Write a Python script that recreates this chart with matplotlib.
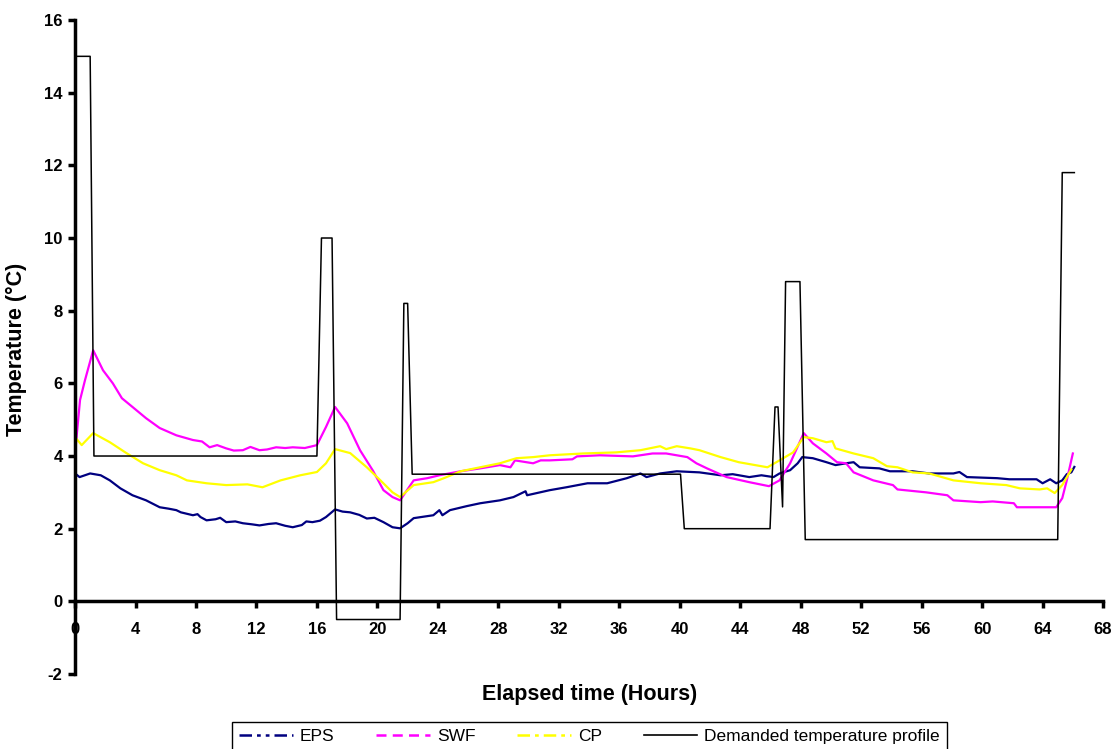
import matplotlib
matplotlib.use('Agg')
import matplotlib.pyplot as plt
from matplotlib.lines import Line2D

plt.rcParams['font.family'] = ['Liberation Sans', 'DejaVu Sans']
plt.rcParams['axes.unicode_minus'] = False

# demanded temperature profile (hours, degC)
dem_x = [0, 1.0, 1.25, 16.0, 16.3, 17.0, 17.3, 21.5, 21.75, 22.0,
         22.3, 40.05, 40.3, 45.97, 46.3, 46.5, 46.8, 47.0, 47.95, 48.3,
         65.0, 65.3, 66.1]
dem_y = [15, 15, 4, 4, 10, 10, -0.5, -0.5, 8.2, 8.2,
         3.5, 3.5, 2.0, 2.0, 5.35, 5.35, 2.6, 8.8, 8.8, 1.7,
         1.7, 11.8, 11.8]

eps_x = [0, 0.3, 1.0, 1.7, 2.3, 3.0, 3.8, 4.7, 5.6, 6.2,
         6.7, 7.0, 7.3, 7.8, 8.1, 8.3, 8.7, 9.3, 9.6, 10.0,
         10.6, 11.1, 11.7, 12.2, 12.8, 13.3, 13.9, 14.4, 15.0, 15.3,
         15.7, 16.2, 16.6, 17.2, 17.7, 18.2, 18.8, 19.3, 19.8, 20.4,
         21.0, 21.5, 22.0, 22.4, 23.7, 24.1, 24.3, 24.8, 25.9, 26.8,
         28.1, 29.0, 29.8, 29.9, 31.4, 32.5, 33.9, 35.2, 36.5, 37.4,
         37.8, 38.7, 39.8, 41.3, 42.7, 43.5, 44.6, 45.4, 46.2, 46.6,
         47.3, 47.8, 48.1, 48.8, 49.7, 50.3, 51.0, 51.5, 51.9, 53.2,
         53.9, 55.4, 56.5, 58.1, 58.5, 59.0, 61.0, 61.8, 63.6, 64.0,
         64.5, 64.9, 65.3, 65.6, 65.9, 66.1]
eps_y = [3.52, 3.42, 3.52, 3.47, 3.33, 3.11, 2.92, 2.78, 2.59, 2.55,
         2.51, 2.45, 2.42, 2.37, 2.40, 2.32, 2.23, 2.26, 2.30, 2.18,
         2.20, 2.15, 2.12, 2.09, 2.13, 2.15, 2.08, 2.04, 2.10, 2.20,
         2.18, 2.22, 2.32, 2.53, 2.47, 2.45, 2.38, 2.28, 2.30, 2.18,
         2.04, 2.01, 2.15, 2.29, 2.37, 2.51, 2.37, 2.51, 2.62, 2.70,
         2.78, 2.87, 3.03, 2.92, 3.06, 3.14, 3.25, 3.25, 3.39, 3.52,
         3.42, 3.52, 3.58, 3.55, 3.47, 3.50, 3.42, 3.47, 3.42, 3.52,
         3.61, 3.80, 3.97, 3.94, 3.83, 3.75, 3.80, 3.83, 3.69, 3.66,
         3.58, 3.58, 3.52, 3.52, 3.56, 3.42, 3.39, 3.36, 3.36, 3.25,
         3.36, 3.25, 3.33, 3.50, 3.55, 3.70]

swf_x = [0, 0.33, 0.66, 1.2, 1.85, 2.5, 3.1, 3.8, 4.7, 5.6,
         6.7, 7.8, 8.4, 8.9, 9.4, 10.0, 10.5, 11.1, 11.6, 12.2,
         12.7, 13.3, 13.9, 14.4, 15.2, 16.0, 16.6, 17.2, 18.0, 18.85,
         19.7, 20.4, 21.0, 21.5, 22.4, 23.3, 24.1, 25.5, 26.8, 28.1,
         28.8, 29.1, 30.3, 30.8, 31.4, 32.9, 33.2, 34.7, 36.9, 38.2,
         39.1, 40.5, 41.1, 41.8, 43.1, 44.6, 45.9, 46.6, 47.3, 48.2,
         48.8, 49.7, 50.4, 51.0, 51.5, 52.8, 54.1, 54.4, 56.3, 57.7,
         58.1, 59.9, 60.7, 62.1, 62.3, 64.9, 65.3, 65.6, 66.0]
swf_y = [4.08, 5.54, 6.09, 6.91, 6.36, 6.00, 5.59, 5.35, 5.04, 4.77,
         4.57, 4.44, 4.40, 4.24, 4.30, 4.21, 4.15, 4.16, 4.25, 4.16,
         4.18, 4.24, 4.22, 4.24, 4.22, 4.30, 4.80, 5.35, 4.90, 4.16,
         3.60, 3.06, 2.87, 2.78, 3.33, 3.39, 3.47, 3.58, 3.66, 3.75,
         3.69, 3.88, 3.80, 3.88, 3.88, 3.91, 3.99, 4.02, 3.99, 4.07,
         4.07, 3.97, 3.80, 3.66, 3.42, 3.28, 3.17, 3.33, 3.80, 4.63,
         4.35, 4.07, 3.83, 3.80, 3.55, 3.33, 3.20, 3.08, 3.00, 2.92,
         2.78, 2.73, 2.75, 2.70, 2.59, 2.59, 2.84, 3.33, 4.07]

cp_x = [0, 0.44, 1.2, 2.3, 3.4, 4.5, 5.6, 6.7, 7.4, 8.7,
        10.0, 11.4, 12.4, 13.6, 14.9, 16.0, 16.6, 17.2, 18.2, 19.3,
        20.2, 21.0, 21.5, 22.4, 23.7, 24.4, 25.5, 26.8, 28.1, 29.2,
        30.3, 31.4, 33.6, 35.8, 37.4, 38.7, 39.1, 39.8, 40.7, 41.3,
        42.7, 43.9, 45.8, 46.6, 47.5, 48.2, 48.8, 49.7, 50.1, 50.3,
        51.5, 52.8, 53.7, 54.4, 55.4, 56.5, 58.1, 59.9, 61.6, 62.5,
        63.8, 64.3, 64.8, 65.3, 65.9]
cp_y = [4.52, 4.30, 4.63, 4.38, 4.08, 3.80, 3.61, 3.47, 3.33, 3.25,
        3.20, 3.22, 3.14, 3.33, 3.47, 3.56, 3.80, 4.19, 4.08, 3.69,
        3.33, 3.00, 2.87, 3.20, 3.28, 3.39, 3.58, 3.69, 3.80, 3.94,
        3.97, 4.02, 4.07, 4.10, 4.16, 4.27, 4.19, 4.27, 4.21, 4.16,
        3.97, 3.83, 3.69, 3.88, 4.10, 4.52, 4.49, 4.38, 4.41, 4.21,
        4.07, 3.94, 3.72, 3.69, 3.55, 3.52, 3.33, 3.25, 3.20, 3.11,
        3.08, 3.11, 2.98, 3.20, 3.63]

fig = plt.figure(figsize=(11.15, 7.49), dpi=100)
ax = fig.add_axes([0.0673, 0.1001, 0.922, 0.8732])

ax.plot(eps_x, eps_y, color='#000080', lw=1.6)
ax.plot(swf_x, swf_y, color='#FF00FF', lw=1.6)
ax.plot(cp_x, cp_y, color='#FFFF00', lw=1.6)
ax.plot(dem_x, dem_y, color='black', lw=1.1)

ax.set_xlim(0, 68)
ax.set_ylim(-2, 16)
ax.set_xticks(range(0, 69, 4))
ax.set_yticks(range(-2, 17, 2))

ax.spines['top'].set_visible(False)
ax.spines['right'].set_visible(False)
ax.spines['bottom'].set_position(('data', 0))
ax.spines['bottom'].set_linewidth(2.5)
ax.spines['left'].set_linewidth(2.5)
ax.tick_params(direction='out', length=5, width=2.5, labelsize=12)
ax.tick_params(axis='x', pad=10)
ax.tick_params(axis='y', pad=4)
for lab in ax.get_xticklabels() + ax.get_yticklabels():
    lab.set_fontweight('bold')

ax.set_xlabel('Elapsed time (Hours)', fontsize=15.5, fontweight='bold')
ax.xaxis.set_label_coords(0.501, -0.016)
ax.set_ylabel('Temperature (°C)', fontsize=15.5, fontweight='bold')
ax.yaxis.set_label_coords(-0.047, 0.496)

handles = [
    Line2D([], [], color='#000080', lw=1.8, dashes=(5, 2, 1.5, 2, 1.5, 2)),
    Line2D([], [], color='#FF00FF', lw=1.8, dashes=(4, 2.5)),
    Line2D([], [], color='#FFFF00', lw=1.8, dashes=(5, 2, 1.5, 2)),
    Line2D([], [], color='black', lw=1.2),
]
leg = fig.legend(handles, ['EPS', 'SWF', 'CP', 'Demanded temperature profile'],
                 loc='upper center', bbox_to_anchor=(0.5287, 0.036), ncol=4,
                 fontsize=12.5, handlelength=3.1, handletextpad=0.4,
                 columnspacing=2.4, fancybox=False, framealpha=1,
                 borderpad=0.4, borderaxespad=0)
leg.get_frame().set_edgecolor('black')
leg.get_frame().set_linewidth(1.0)

fig.savefig('out.png', dpi=100)
